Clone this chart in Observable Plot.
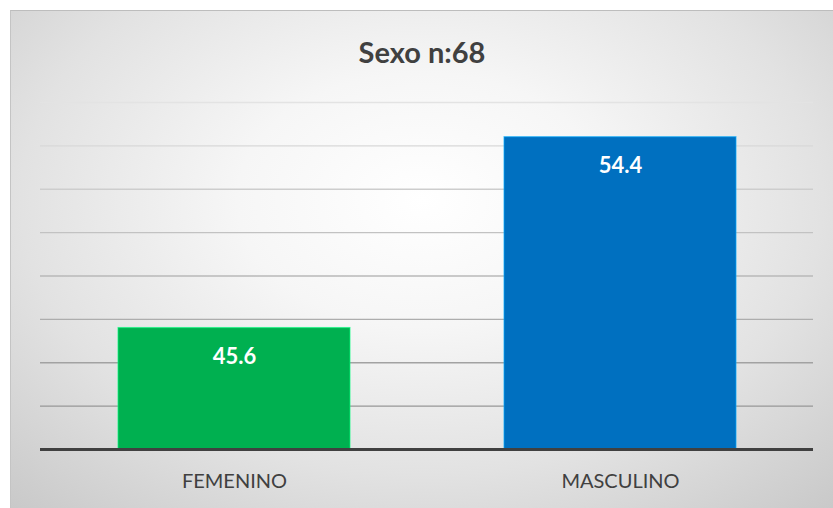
<!DOCTYPE html>
<html>
<head>
<meta charset="utf-8">
<script src="https://cdn.jsdelivr.net/npm/d3@7"></script>
<script src="https://cdn.jsdelivr.net/npm/@observablehq/plot@0.6"></script>
<style>
  html, body { margin: 0; padding: 0; background: #fff; }
  #chart {
    position: absolute; left: 10px; top: 10px; width: 823px; height: 498px;
    background: radial-gradient(ellipse 75% 85% at 50% 38%, #ffffff 0%, #f6f6f6 30%, #e2e2e2 65%, #c8c8c8 100%);
    border-top: 1px solid #bdbdbd; border-left: 1px solid #c4c4c4;
    box-sizing: border-box;
  }
  #title {
    height: 79px; box-sizing: border-box; padding-top: 24px; line-height: 34px;
    text-align: center; font-family: Lato, "Open Sans", sans-serif; font-weight: bold;
    font-size: 29px; color: #404040;
  }
  svg { display: block; }
</style>
</head>
<body>
<div id="chart"><div id="title">Sexo n:68</div></div>
<script>
const categories = ["FEMENINO", "MASCULINO"];
const values = [45.6, 54.4];
const colors = ["#00B050", "#0070C0"];
const gridTicks = [42, 44, 46, 48, 50, 52, 54, 56];
const yMin = 40, yMax = 56;

const data = categories.map((c, i) => ({cat: c, value: values[i], color: colors[i]}));
const gridColor = d3.scaleLinear().domain([yMax, yMin]).range(["#e3e3e3", "#8c8c8c"]);

const plot = Plot.plot({
  width: 821,
  height: 418,
  marginLeft: 29,
  marginRight: 19,
  marginTop: 12,
  marginBottom: 59,
  style: {background: "transparent", fontFamily: "Lato, 'Open Sans', sans-serif"},
  x: {domain: categories, paddingInner: 0.4, paddingOuter: 0.2, label: null},
  y: {domain: [yMin, yMax], axis: null},
  marks: [
    Plot.ruleY(gridTicks, {stroke: d => gridColor(d), strokeWidth: 1.3}),
    Plot.barY(data, {x: "cat", y1: yMin, y2: "value", fill: "color", stroke: d => d3.color(d.color).brighter(1.2).formatHex(), strokeWidth: 1.2, strokeOpacity: 0.6}),
    Plot.text(data, {x: "cat", y: "value", text: d => d.value.toFixed(1), dy: 29, fill: "white", fontWeight: "bold", fontSize: 22}),
    Plot.ruleY([yMin], {stroke: "#404040", strokeWidth: 3}),
    Plot.axisX({tickSize: 0, tickPadding: 24, fontSize: 20, color: "#404040", label: null})
  ]
});
document.getElementById("chart").appendChild(plot);
</script>
</body>
</html>
